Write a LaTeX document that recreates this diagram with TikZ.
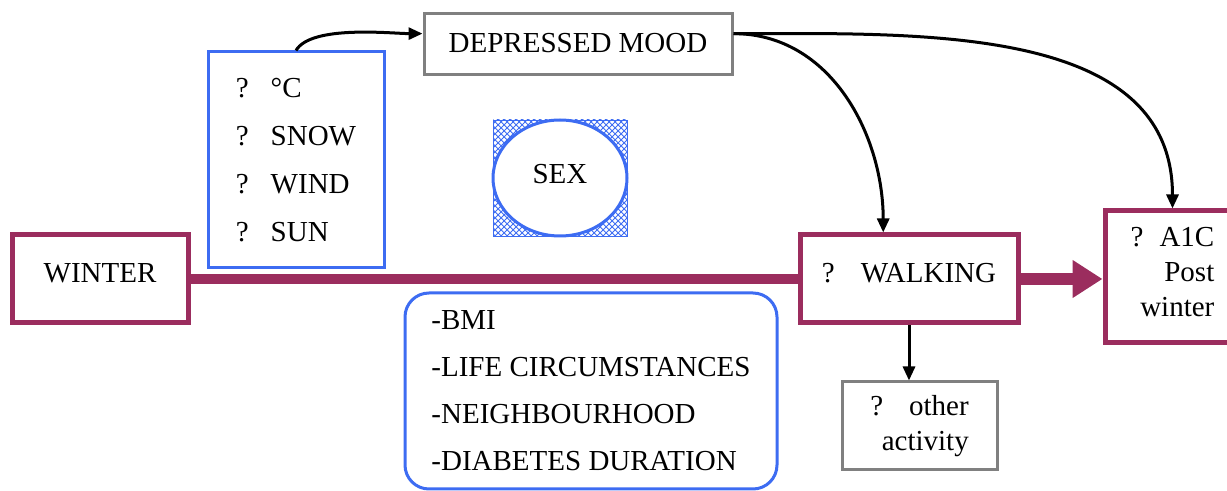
\documentclass[tikz,border=0pt]{standalone}
\usepackage{fontspec}
\setmainfont{Liberation Serif}
\usetikzlibrary{arrows.meta,shapes.geometric,patterns}
\definecolor{plum}{HTML}{9B2D5E}
\definecolor{vblue}{HTML}{3D6CF2}
\definecolor{boxgray}{HTML}{808080}

\begin{document}
\begin{tikzpicture}[x=0.5pt,y=-0.5pt,
    font=\fontsize{14.5}{17.5}\selectfont,
    every node/.style={inner sep=0pt},
    mainbox/.style={draw=plum,line width=2.5pt},
    varbox/.style={draw=vblue,line width=1.5pt},
    graybox/.style={draw=boxgray,line width=1.5pt},
    link/.style={line width=1.5pt,-{Triangle[length=7pt,width=6pt]}}]
  \useasboundingbox (0,0) rectangle (1227,491);
  \node[mainbox,minimum width=88pt,minimum height=44pt,text depth=6pt](winter) at (100,279){WINTER};
  \node[varbox,minimum width=88pt,minimum height=108pt,align=left](weather) at (296,160)
    {?\hspace{11pt}°C\\[6.5pt]?\hspace{11pt}SNOW\\[6.5pt]?\hspace{11pt}WIND\\[6.5pt]?\hspace{11pt}SUN};
  \node[graybox,minimum width=154pt,minimum height=30.5pt,text depth=2pt](dm) at (578,44.5){DEPRESSED MOOD};
  \node[draw=vblue,pattern=crosshatch,pattern color=vblue,minimum width=67pt,minimum height=58pt](sexbg) at (560,178){};
  \node[ellipse,varbox,fill=white,minimum width=67pt,minimum height=58pt,text depth=4pt](sex) at (sexbg){SEX};
  \node[mainbox,minimum width=109pt,minimum height=44pt,text depth=6pt](walk) at (909,279){?\hspace{13pt}WALKING};
  \node[mainbox,minimum width=67.5pt,minimum height=66pt,align=right,text depth=5pt](a1c) at (1172.5,277)
    {?\hspace{8pt}A1C\\Post\\winter};
  \node[varbox,rounded corners=12pt,minimum width=186pt,minimum height=98pt,align=left](factors) at (591,391)
    {-BMI\\[6pt]-LIFE CIRCUMSTANCES\\[6pt]-NEIGHBOURHOOD\\[6pt]-DIABETES DURATION};
  \node[graybox,minimum width=77.5pt,minimum height=44pt,align=right,text depth=3pt](oa) at (919.5,426)
    {?\hspace{13pt}other\\activity};

  \draw[plum,line width=5pt](winter.east)--(walk.west);
  \draw[plum,line width=6pt,-{Triangle[length=15pt,width=18pt]}](walk.east)--(walk.east -| a1c.west);
  \draw[link](walk.south)--(walk.south |- oa.north);
  \draw[link](weather.north) to[out=60,in=180,looseness=0.6](dm.176);
  \draw[link](dm.4) to[out=0,in=90](walk.119);
  \draw[link](dm.4) to[out=0,in=90](a1c.north);
\end{tikzpicture}
\end{document}
